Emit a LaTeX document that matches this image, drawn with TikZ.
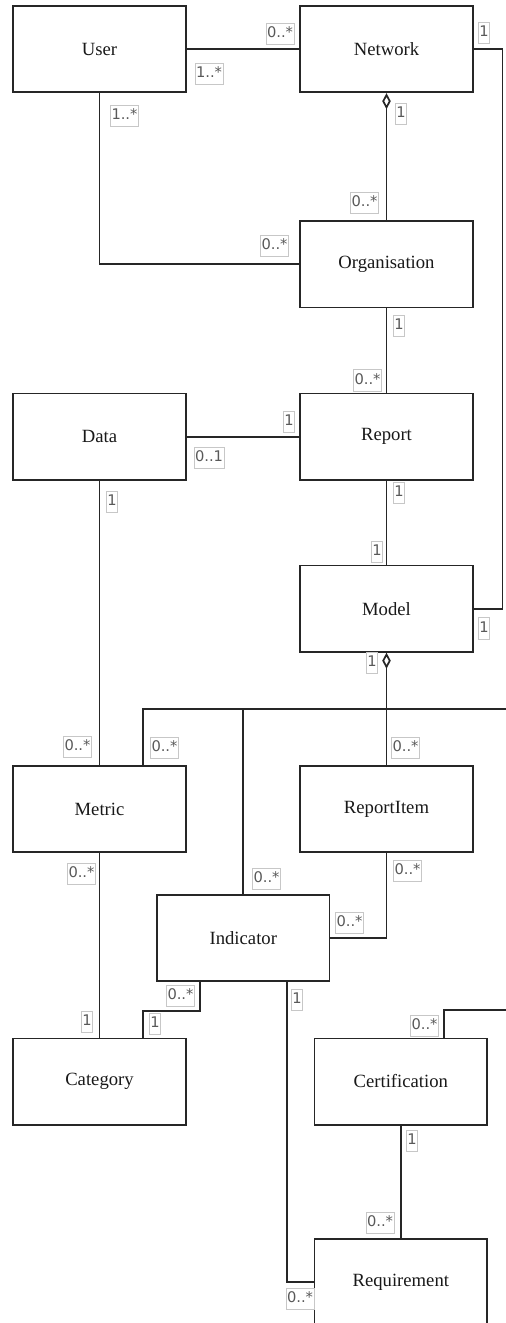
\documentclass[tikz,border=0pt]{standalone}
\usepackage{fontspec}
\setmainfont{Liberation Serif}
\newfontfamily\multfont{DejaVu Sans}
\usetikzlibrary{arrows.meta,calc}

\begin{document}
\begin{tikzpicture}[x=0.75pt,y=-0.75pt,
  cls/.style={draw=black!85, line width=1.3pt, fill=white,
    minimum width=129.3pt, minimum height=64.7pt, inner sep=0pt,
    font=\fontsize{14}{16}\selectfont, text=black!90},
  mult/.style={draw=black!22, line width=0.5pt, fill=white,
    inner xsep=0.8pt, inner ysep=2.4pt, text height=8.4pt, text depth=2.6pt,
    font=\multfont\fontsize{11}{13}\selectfont, text=black!65},
  assoc/.style={draw=black!85, line width=1.3pt},
  agg/.style={assoc, {Diamond[open,length=12pt,width=6.4pt]}-}
]
\useasboundingbox (0,0) rectangle (506,1323);
\fill[white] (0,0) rectangle (506,1323);
\clip (0,0) rectangle (506,1323);

% classes
\node[cls] (User)          at (99.5,49.2)   {User};
\node[cls] (Network)       at (386.5,49.2)  {Network};
\node[cls] (Organisation)  at (386.5,264.3) {Organisation};
\node[cls] (Data)          at (99.5,436.7)  {Data};
\node[cls] (Report)        at (386.5,436.7) {Report};
\node[cls] (Model)         at (386.5,608.7) {Model};
\node[cls] (Metric)        at (99.5,809)    {Metric};
\node[cls] (ReportItem)    at (386.5,809)   {ReportItem};
\node[cls] (Indicator)     at (243.3,938)   {Indicator};
\node[cls] (Category)      at (99.5,1081.5) {Category};
\node[cls] (Certification) at (400.8,1081.5){Certification};
\node[cls] (Requirement)   at (400.8,1282)  {Requirement};

% attachment points away from the box centres
\coordinate (met-a) at ($(Metric.north west)!0.75!(Metric.north east)$);
\coordinate (cat-a) at ($(Category.north west)!0.75!(Category.north east)$);
\coordinate (ind-a) at ($(Indicator.south west)!0.25!(Indicator.south east)$);
\coordinate (ind-b) at ($(Indicator.south west)!0.75!(Indicator.south east)$);
\coordinate (cer-a) at ($(Certification.north west)!0.75!(Certification.north east)$);
\coordinate (offA) at (506,709);
\coordinate (offB) at (506,1010);

% associations
\draw[assoc] (User.east) -- (Network.west);
\draw[assoc] (User.south) |- (Organisation.west);
\draw[agg]   (Network.south) -- (Organisation.north);
\draw[assoc] (Organisation.south) -- (Report.north);
\draw[assoc] (Data.east) -- (Report.west);
\draw[assoc] (Network.east) -- ++(29,0) |- (Model.east);
\draw[assoc] (Report.south) -- (Model.north);
\draw[assoc] (Data.south) -- (Metric.north);
\draw[assoc] (met-a) |- (offA);
\draw[assoc] (Indicator.north) |- (offA);
\draw[agg]   (Model.south) -- (ReportItem.north);
\draw[assoc] (Metric.south) -- (Category.north);
\draw[assoc] (ReportItem.south) |- (Indicator.east);
\draw[assoc] (ind-a) -- ++(0,29) -| (cat-a);
\draw[assoc] (ind-b) |- (Requirement.west);
\draw[assoc] (cer-a) |- (offB);
\draw[assoc] (Certification.south) -- (Requirement.north);

% multiplicities
\node[mult] (m1)  at (280,33.5)   {0..*};
\node[mult] (m2)  at (209,73.5)   {1..*};
\node[mult] (m3)  at (124.5,116)  {1..*};
\node[mult] (m4)  at (274.5,246)  {0..*};
\node[mult] (m5)  at (401,114)    {1};
\node[mult] (m6)  at (364.5,202.5){0..*};
\node[mult] (m7)  at (399,325.5)  {1};
\node[mult] (m8)  at (367.5,380.3){0..*};
\node[mult] (m9)  at (289,421.5)  {1};
\node[mult] (m10) at (209,457.5)  {0..1};
\node[mult] (m11) at (484,33)     {1};
\node[mult] (m12) at (484,628.3)  {1};
\node[mult] (m13) at (399,493)    {1};
\node[mult] (m14) at (377,551.5)  {1};
\node[mult] (m15) at (112,502)    {1};
\node[mult] (m16) at (77.5,747)   {0..*};
\node[mult] (m17) at (372,663)    {1};
\node[mult] (m18) at (405.5,747.5){0..*};
\node[mult] (m19) at (164.5,747.5){0..*};
\node[mult] (m20) at (266.5,879)  {0..*};
\node[mult] (m21) at (81.5,873.5) {0..*};
\node[mult] (m22) at (87,1021.5)  {1};
\node[mult] (m23) at (407.5,871)  {0..*};
\node[mult] (m24) at (349.5,922.5){0..*};
\node[mult] (m25) at (180.5,996)  {0..*};
\node[mult] (m26) at (155,1024)   {1};
\node[mult] (m27) at (297,999.5)  {1};
\node[mult] (m28) at (300,1299)   {0..*};
\node[mult] (m29) at (424.5,1025.5){0..*};
\node[mult] (m30) at (412,1141)   {1};
\node[mult] (m31) at (380,1223)   {0..*};
\end{tikzpicture}
\end{document}
